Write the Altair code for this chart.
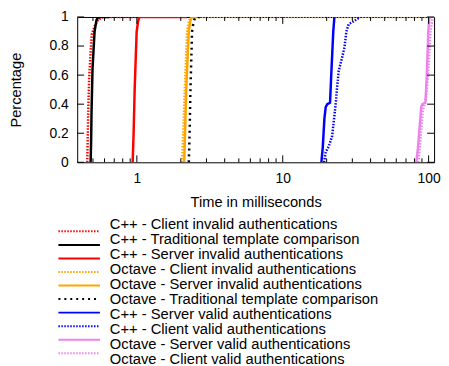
import altair as alt
import pandas as pd

names = [
    "C++ - Client invalid authentications",
    "C++ - Traditional template comparison",
    "C++ - Server invalid authentications",
    "Octave - Client invalid authentications",
    "Octave - Server invalid authentications",
    "Octave - Traditional template comparison",
    "C++ - Server valid authentications",
    "C++ - Client valid authentications",
    "Octave - Server valid authentications",
    "Octave - Client valid authentications",
]
colors = ["#ff0000", "#000000", "#ff0000", "#ffa500", "#ffa500", "#000000",
          "#0000ff", "#0000ff", "#ee82ee", "#ee82ee"]
dashes = [[1.5, 1.5], [1, 0], [1, 0], [1.5, 1.5], [1, 0], [2, 4],
          [1, 0], [1.5, 1.5], [1, 0], [1.5, 1.5]]

s_x = [
    [0.457, 0.464, 0.471, 0.482, 0.491, 0.515, 0.542, 0.586, 1.0],
    [0.482, 0.486, 0.489, 0.497, 0.513, 0.529, 0.548, 0.65],
    [0.936, 0.95, 0.966, 0.985, 0.997, 1.02, 1.04, 2.2],
    [2.04, 2.08, 2.13, 2.21, 2.27, 2.33, 109],
    [2.11, 2.14, 2.18, 2.27, 2.32, 2.39, 2.6],
    [2.27, 2.30, 2.33, 2.39, 2.45, 2.52, 2.8],
    [18.4, 18.8, 19.3, 19.7, 20.2, 21.1, 21.5, 22.2, 22.6],
    [19.2, 19.7, 20.7, 21.8, 22.6, 23.1, 23.6, 24.2, 25.5, 26.5, 27.3, 28.3, 30.6, 34.0],
    [82.3, 84.5, 89.0, 90.5, 95.1, 97.2, 99.5, 101.3],
    [85.0, 87.0, 91.0, 93.7, 96.0, 99.0, 103.0, 106.7],
]
s_y = [
    [0, 0.35, 0.58, 0.76, 0.88, 0.94, 0.98, 1, 1],
    [0, 0.15, 0.35, 0.65, 0.9, 0.98, 1, 1],
    [0, 0.2, 0.5, 0.75, 0.9, 0.97, 1, 1],
    [0, 0.2, 0.5, 0.9, 0.97, 1, 1],
    [0, 0.2, 0.5, 0.9, 0.97, 1, 1],
    [0, 0.2, 0.5, 0.9, 0.97, 1, 1],
    [0, 0.1, 0.3, 0.38, 0.4, 0.41, 0.6, 0.9, 1],
    [0, 0.07, 0.11, 0.18, 0.32, 0.41, 0.52, 0.63, 0.72, 0.79, 0.9, 0.95, 0.97, 1],
    [0, 0.1, 0.38, 0.4, 0.41, 0.6, 0.9, 1],
    [0, 0.1, 0.35, 0.4, 0.45, 0.6, 0.9, 1],
]

x_major = [1, 10, 100]
x_minor = [0.5, 0.6, 0.7, 0.8, 0.9, 2, 3, 4, 5, 6, 7, 8, 9,
           20, 30, 40, 50, 60, 70, 80, 90]
y_ticks = [0, 0.2, 0.4, 0.6, 0.8, 1]

rows = []
for n, xs, ys in zip(names, s_x, s_y):
    for i, (a, b) in enumerate(zip(xs, ys)):
        rows.append({"series": n, "t": a, "p": b, "i": i})
df = pd.DataFrame(rows)

W, H = 361, 147
FONT = "Liberation Sans"

xscale = alt.Scale(type="log", domain=[0.39, 109], nice=False)
yscale = alt.Scale(domain=[0, 1], nice=False, zero=False)
color = alt.Color("series:N", scale=alt.Scale(domain=names, range=colors), legend=None)
dash = alt.StrokeDash("series:N", scale=alt.Scale(domain=names, range=dashes), legend=None)

lines = alt.Chart(df).mark_line(strokeWidth=2.5, clip=True).encode(
    x=alt.X("t:Q", scale=xscale,
            axis=alt.Axis(title="Time in milliseconds", values=x_major, format="~g",
                          ticks=False, tickSize=0, labelPadding=9, titlePadding=10,
                          grid=False, domain=False)),
    y=alt.Y("p:Q", scale=yscale,
            axis=alt.Axis(title="Percentage", values=y_ticks, format="~g",
                          ticks=False, tickSize=0, labelPadding=9, titlePadding=26,
                          grid=False, domain=False)),
    color=color,
    strokeDash=dash,
    detail="series:N",
    order="i:Q",
)

xmaj = pd.DataFrame({"v": x_major})
xmin = pd.DataFrame({"v": x_minor})
ydf = pd.DataFrame({"v": y_ticks})

def xtick(data, y0, y1):
    return alt.Chart(data).mark_rule(color="black", strokeWidth=1).encode(
        x=alt.X("v:Q", scale=xscale), y=alt.value(y0), y2=alt.value(y1))

def ytick(x0, x1):
    return alt.Chart(ydf).mark_rule(color="black", strokeWidth=1).encode(
        y=alt.Y("v:Q", scale=yscale, axis=None), x=alt.value(x0), x2=alt.value(x1))

ticks = [
    xtick(xmaj, H, H - 7), xtick(xmaj, 0, 7),
    xtick(xmin, H, H - 4), xtick(xmin, 0, 4),
    ytick(0, 7), ytick(W, W - 7),
]

leg = pd.DataFrame({"series": names})
ly = alt.Y("series:N", scale=alt.Scale(domain=names, range=[210, 347], padding=0), axis=None)
leg_rule = alt.Chart(leg).mark_rule(strokeWidth=2).encode(
    x=alt.value(-19), x2=alt.value(23), y=ly, color=color, strokeDash=dash)
leg_text = alt.Chart(leg).mark_text(align="left", baseline="middle", fontSize=14.9,
                                    font=FONT, color="black").encode(
    x=alt.value(33), y=ly, text="series:N")

chart = alt.layer(lines, *ticks, leg_rule, leg_text).resolve_scale(
    y="independent"
).properties(
    width=W, height=H,
    autosize=alt.AutoSizeParams(type="none"),
    padding={"left": 70, "top": 7, "right": 7, "bottom": 207},
).configure_view(
    stroke="black", strokeWidth=1
).configure_axis(
    labelFont=FONT, titleFont=FONT, labelFontSize=14, titleFontSize=14.8,
    labelColor="black", titleColor="black", titleFontWeight="normal",
)

chart.save("out.html", embed_options={"renderer": "svg", "actions": False})
